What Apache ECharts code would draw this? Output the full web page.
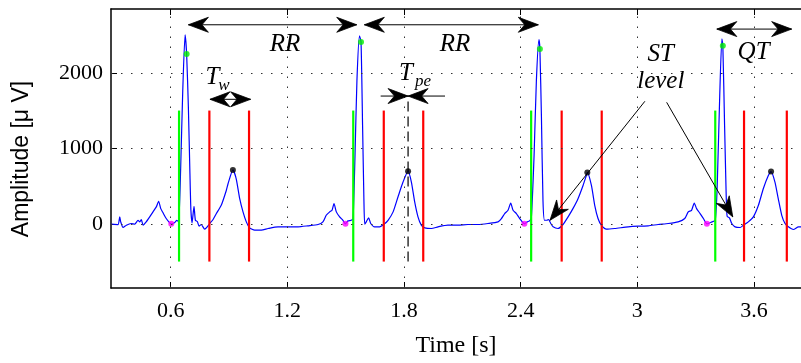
<!DOCTYPE html>
<html>
<head>
<meta charset="utf-8">
<script src="https://cdn.jsdelivr.net/npm/echarts@6/dist/echarts.min.js"></script>
<style>html,body{margin:0;padding:0;background:#fff}#c{width:801px;height:363px}</style>
</head>
<body>
<div id="c"></div>
<script>
// ---- data ----
const ecgTime = [0.295,0.329,0.338,0.343,0.355,0.372,0.397,0.415,0.432,0.441,0.449,0.458,0.474,0.492,0.509,0.526,0.538,0.549,0.560,0.577,0.595,0.603,0.621,0.632,0.641,0.651,0.662,0.674,0.682,0.691,0.699,0.704,0.710,0.720,0.727,0.737,0.746,0.757,0.775,0.788,0.801,0.818,0.835,0.860,0.886,0.895,0.920,0.937,0.955,0.972,0.989,1.006,1.032,1.066,1.101,1.152,1.203,1.255,1.306,1.358,1.383,1.400,1.418,1.430,1.440,1.452,1.469,1.486,1.498,1.512,1.529,1.538,1.548,1.558,1.571,1.579,1.587,1.594,1.598,1.606,1.618,1.629,1.649,1.675,1.697,1.718,1.744,1.769,1.795,1.821,1.838,1.855,1.872,1.889,1.907,1.941,1.975,2.026,2.078,2.129,2.181,2.232,2.284,2.301,2.318,2.335,2.349,2.361,2.378,2.395,2.419,2.434,2.446,2.455,2.469,2.481,2.494,2.499,2.507,2.515,2.523,2.535,2.544,2.555,2.567,2.592,2.618,2.644,2.669,2.695,2.721,2.738,2.743,2.764,2.781,2.798,2.815,2.841,2.884,2.953,3.004,3.056,3.107,3.159,3.210,3.244,3.262,3.279,3.293,3.305,3.323,3.340,3.358,3.384,3.401,3.411,3.424,3.435,3.440,3.449,3.457,3.462,3.474,3.486,3.503,3.529,3.546,3.571,3.597,3.623,3.648,3.674,3.688,3.708,3.725,3.743,3.760,3.777,3.803,3.829,3.843];
const ecgAmp = [-5,-10,92,26,-49,-18,4,-5,47,26,57,-18,26,92,158,224,298,201,149,70,13,0,17,47,26,705,1758,2504,2250,1540,662,179,13,232,47,30,-31,-9,-71,-40,4,57,136,245,442,530,714,596,333,158,26,-53,-84,-84,-62,-40,-40,-40,-26,-9,26,113,158,180,267,158,92,47,0,39,47,70,900,1900,2490,2408,1300,300,-5,26,79,4,-40,-40,-5,47,158,355,553,697,553,290,92,-18,-53,-62,-40,-18,-18,-9,-9,4,26,70,136,179,276,179,136,70,0,26,39,80,900,1900,2439,2316,1400,300,47,47,57,4,-40,-62,-9,92,201,333,508,640,680,508,245,70,-18,-71,-62,-40,-31,-26,-9,4,26,70,158,179,276,201,136,70,0,26,47,500,1700,2451,2359,1300,400,100,79,4,-40,-49,-18,26,92,245,465,640,692,553,333,113,4,-40,-75,-40,-40];

const xTicks = [0.6, 1.2, 1.8, 2.4, 3, 3.6];
const yTicks = [0, 1000, 2000];

// fiducial points
const pOnsetT = [0.603, 1.499, 2.419, 3.358];   // magenta
const pOnsetV = [0, 0, 0, 0];
const rPeakT  = [0.682, 1.579, 2.499, 3.440];   // green dots
const rPeakV  = [2250, 2408, 2316, 2359];
const tPeakT  = [0.920, 1.821, 2.743, 3.688];   // black dots
const tPeakV  = [714, 697, 680, 692];

// vertical markers
const qrsOnsetT = [0.643, 1.539, 2.454, 3.401]; // green lines
const tBoundT   = [0.799, 1.003, 1.696, 1.899, 2.611, 2.817, 3.549, 3.769]; // red lines
const markerLow = -500, markerHigh = 1500;
const tpeDashT = 1.821, tpeDashTop = 1692;

// annotation arrows [x1, y1, x2, y2]
const doubleArrows = [
  [0.691, 2636, 1.557, 2636],   // RR
  [1.596, 2636, 2.491, 2636],   // RR
  [0.802, 1649, 1.011, 1649],   // T_w
  [3.409, 2579, 3.794, 2579]    // QT
];
const singleArrows = [
  [1.680, 1692, 1.821, 1692],   // T_pe left
  [2.011, 1692, 1.821, 1692],   // T_pe right
  [3.039, 1623, 2.551, 47],     // ST level
  [3.151, 1609, 3.491, 92]      // ST level
];

// annotation texts
const labelText = ['RR', 'RR', 'QT', 'ST', 'level'];
const labelT    = [1.188, 2.062, 3.598, 3.121, 3.121];
const labelV    = [2380, 2380, 2274, 2241, 1880];
const subMain   = ['T', 'T'];
const subMainT  = [0.815, 1.810];
const subMainV  = [1945, 1990];
const subText   = ['w', 'pe'];
const subTextT  = [0.844, 1.857];
const subTextV  = [1833, 1885];

// ---- chart ----
const xMin = 0.293, xMax = 3.842, yMin = -850, yMax = 2845;
const chart = echarts.init(document.getElementById('c'), null, {renderer: 'canvas'});
const SERIF = '"Liberation Serif", "Times New Roman", serif';
const ITALIC = 'italic 25px ' + SERIF;

function arrowHead(tip, from, L, W) {
  const dx = tip[0] - from[0], dy = tip[1] - from[1];
  const len = Math.hypot(dx, dy) || 1;
  const ux = dx / len, uy = dy / len, nx = -uy, ny = ux;
  const bx = tip[0] - ux * L, by = tip[1] - uy * L;
  const mx = tip[0] - ux * L * 0.68, my = tip[1] - uy * L * 0.68;
  return {type: 'polygon', shape: {points: [tip, [bx + nx * W / 2, by + ny * W / 2], [mx, my], [bx - nx * W / 2, by - ny * W / 2]]},
          style: {fill: '#000', stroke: '#000', lineWidth: 0.8}};
}
function arrowRender(both) {
  return function (params, api) {
    const p1 = api.coord([api.value(0), api.value(1)]);
    const p2 = api.coord([api.value(2), api.value(3)]);
    const ch = [{type: 'line', shape: {x1: p1[0], y1: p1[1], x2: p2[0], y2: p2[1]}, style: {stroke: '#000', lineWidth: 1}}];
    ch.push(arrowHead(p2, p1, 20, 15));
    if (both) ch.push(arrowHead(p1, p2, 20, 15));
    return {type: 'group', children: ch};
  };
}
function vlineRender(color, width, dash) {
  return function (params, api) {
    const p1 = api.coord([api.value(0), api.value(1)]);
    const p2 = api.coord([api.value(0), api.value(2)]);
    return {type: 'line', shape: {x1: p1[0], y1: p1[1], x2: p2[0], y2: p2[1]},
            style: {stroke: color, lineWidth: width, lineDash: dash || null}};
  };
}
function textRender(texts, font, align) {
  return function (params, api) {
    const p = api.coord([api.value(0), api.value(1)]);
    return {type: 'text', x: p[0], y: p[1],
            style: {text: texts[params.dataIndex], font: font, fill: '#000', align: align, verticalAlign: 'middle'}};
  };
}
const zip = (a, b) => a.map((v, i) => [v, b[i]]);

const option = {
  animation: false,
  backgroundColor: '#fff',
  grid: {left: 111, right: 0, top: 9, bottom: 73, containLabel: false},
  xAxis: [{
    type: 'value', min: xMin, max: xMax, position: 'bottom',
    axisLine: {show: true, onZero: false, lineStyle: {color: '#000', width: 1.5}},
    axisTick: {show: true, inside: true, length: 6, customValues: xTicks, lineStyle: {color: '#000', width: 1}},
    axisLabel: {show: true, customValues: xTicks, color: '#000', fontFamily: SERIF, fontSize: 22, margin: 12,
                formatter: v => String(v)},
    splitLine: {show: false},
    name: 'Time [s]', nameLocation: 'middle', nameGap: 46,
    nameTextStyle: {fontFamily: SERIF, fontSize: 24, color: '#000'}
  }, {
    type: 'value', min: xMin, max: xMax, position: 'top',
    axisLine: {show: true, onZero: false, lineStyle: {color: '#000', width: 1.5}},
    axisTick: {show: true, inside: true, length: 6, customValues: xTicks, lineStyle: {color: '#000', width: 1}},
    axisLabel: {show: false}, splitLine: {show: false}
  }],
  yAxis: [{
    type: 'value', min: yMin, max: yMax, position: 'left',
    axisLine: {show: true, onZero: false, lineStyle: {color: '#000', width: 1.5}},
    axisTick: {show: true, inside: true, length: 6, customValues: yTicks, lineStyle: {color: '#000', width: 1}},
    axisLabel: {show: true, customValues: yTicks, color: '#000', fontFamily: SERIF, fontSize: 22, margin: 8,
                formatter: v => String(v)},
    splitLine: {show: false}
  }],
  graphic: [{
    type: 'text', x: 22, y: 159, rotation: Math.PI / 2,
    style: {text: 'Amplitude [μ V]', font: '23px "Liberation Sans", Arial, sans-serif', fill: '#000', align: 'center', verticalAlign: 'middle'}
  }],
  series: [
    { // grid lines
      type: 'line', data: [], z: 1, silent: true,
      markLine: {
        silent: true, symbol: ['none', 'none'], label: {show: false},
        lineStyle: {color: '#333', width: 1, type: [1.5, 8.5]},
        data: xTicks.map(v => ({xAxis: v})).concat(yTicks.map(v => ({yAxis: v})))
      }
    },
    {
      type: 'line', name: 'ECG', data: zip(ecgTime, ecgAmp), showSymbol: false, smooth: 0.2,
      lineStyle: {color: '#0000ff', width: 1.2}, itemStyle: {color: '#0000ff'}, z: 2, clip: true
    },
    {type: 'custom', z: 3, renderItem: vlineRender('#00ff00', 2.2), data: qrsOnsetT.map(t => [t, markerLow, markerHigh])},
    {type: 'custom', z: 3, renderItem: vlineRender('#ff0000', 2.2), data: tBoundT.map(t => [t, markerLow, markerHigh])},
    {type: 'custom', z: 3, renderItem: vlineRender('#000', 1.2, [10, 5]), data: [[tpeDashT, markerLow, tpeDashTop]]},
    {type: 'scatter', z: 4, data: zip(pOnsetT, pOnsetV), symbolSize: 6, itemStyle: {color: '#ff00ff'}},
    {type: 'scatter', z: 4, data: zip(rPeakT, rPeakV), symbolSize: 6, itemStyle: {color: '#00ee00'}},
    {type: 'scatter', z: 4, data: zip(tPeakT, tPeakV), symbolSize: 6, itemStyle: {color: '#000'}},
    {type: 'custom', z: 5, renderItem: arrowRender(true), data: doubleArrows},
    {type: 'custom', z: 5, renderItem: arrowRender(false), data: singleArrows},
    {type: 'custom', z: 6, renderItem: textRender(labelText, ITALIC, 'center'), data: zip(labelT, labelV)},
    {type: 'custom', z: 6, renderItem: textRender(subMain, ITALIC, 'center'), data: zip(subMainT, subMainV)},
    {type: 'custom', z: 6, renderItem: textRender(subText, 'italic 17px ' + SERIF, 'left'), data: zip(subTextT, subTextV)}
  ]
};
chart.setOption(option);
</script>
</body>
</html>
